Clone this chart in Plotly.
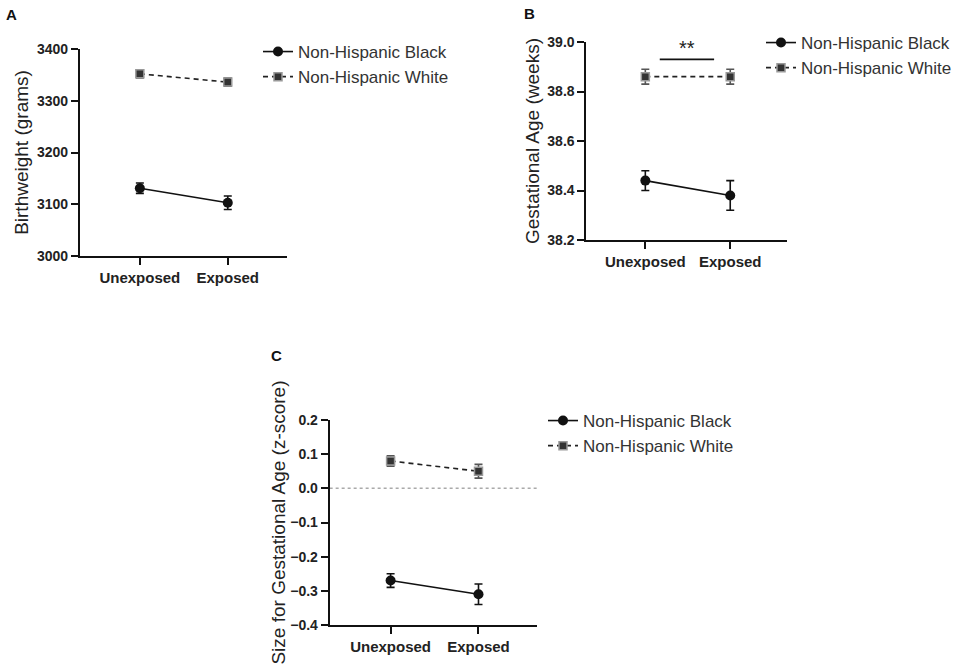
import plotly.graph_objects as go

# categories and values
categories = ['Unexposed', 'Exposed']
groups = ['Non-Hispanic Black', 'Non-Hispanic White']

bw_black = [3131, 3103]
bw_black_err = [10, 13]
bw_white = [3352, 3336]
bw_white_err = [8, 8]

ga_black = [38.44, 38.38]
ga_black_err = [0.04, 0.06]
ga_white = [38.86, 38.86]
ga_white_err = [0.03, 0.03]

sga_black = [-0.27, -0.31]
sga_black_err = [0.02, 0.03]
sga_white = [0.08, 0.05]
sga_white_err = [0.015, 0.02]

W, H = 957, 667
FONT = 'Liberation Sans, Arial, sans-serif'

fig = go.Figure()

xpos = list(range(len(categories)))

panels = [
    ('x', 'y', 'legend', bw_black, bw_black_err, bw_white, bw_white_err),
    ('x2', 'y2', 'legend2', ga_black, ga_black_err, ga_white, ga_white_err),
    ('x3', 'y3', 'legend3', sga_black, sga_black_err, sga_white, sga_white_err),
]

for xa, ya, lg, b, be, w, we in panels:
    fig.add_trace(go.Scatter(
        x=xpos, y=b, xaxis=xa, yaxis=ya, legend=lg, name=groups[0],
        mode='lines+markers',
        line=dict(color='#111111', width=1.6),
        marker=dict(symbol='circle', size=10, color='#111111'),
        error_y=dict(type='data', array=be, color='#111111', thickness=1.6, width=4),
    ))
    fig.add_trace(go.Scatter(
        x=xpos, y=w, xaxis=xa, yaxis=ya, legend=lg, name=groups[1],
        mode='lines+markers',
        line=dict(color='#222222', width=1.6, dash='5px,4px'),
        marker=dict(symbol='square', size=8, color='#333333',
                    line=dict(color='#999999', width=1.5)),
        error_y=dict(type='data', array=we, color='#555555', thickness=1.6, width=4),
    ))

def xdom(left, right):
    return [left / W, right / W]

def ydom(top, bottom):
    return [1 - bottom / H, 1 - top / H]

def xrange_for(left, right, p0, p1):
    unit = p1 - p0
    return [(left - p0) / unit, (right - p0) / unit]

axis_common = dict(
    showline=True, linecolor='#111111', linewidth=2,
    ticks='outside', tickcolor='#111111', tickwidth=2, ticklen=7,
    showgrid=False, zeroline=False, automargin=False,
    tickfont=dict(family=FONT, size=14, color='#222222', weight='bold'),
)

xcommon = dict(axis_common, tickvals=xpos, ticktext=categories, fixedrange=True,
               tickfont=dict(family=FONT, size=15, color='#222222', weight='bold'))
title_font = dict(family=FONT, size=19, color='#222222')

fig.update_layout(
    width=W, height=H,
    margin=dict(l=0, r=0, t=0, b=0),
    paper_bgcolor='white', plot_bgcolor='white',
    font=dict(family=FONT, color='#222222'),
    xaxis=dict(xcommon, domain=xdom(80, 287), range=xrange_for(80, 287, 140, 228), anchor='y'),
    yaxis=dict(axis_common, domain=ydom(49, 256), range=[3000, 3400], dtick=100, anchor='x',
               title=dict(text='Birthweight (grams)', font=title_font, standoff=3)),
    xaxis2=dict(xcommon, domain=xdom(587, 788), range=xrange_for(587, 788, 646, 731), anchor='y2'),
    yaxis2=dict(axis_common, domain=ydom(42, 240), range=[38.2, 39.0], dtick=0.2,
                tickformat='.1f', anchor='x2',
                title=dict(text='Gestational Age (weeks)', font=title_font, standoff=3)),
    xaxis3=dict(xcommon, domain=xdom(330, 538), range=xrange_for(330, 538, 391, 479), anchor='y3'),
    yaxis3=dict(axis_common, domain=ydom(420, 625), range=[-0.4, 0.2], dtick=0.1,
                tickformat='.1f', anchor='x3',
                title=dict(text='Size for Gestational Age (z-score)', font=title_font, standoff=0)),
    legend=dict(x=258 / W, y=1 - 34 / H, xanchor='left', yanchor='top',
                font=dict(size=17, color='#333333'), bgcolor='rgba(0,0,0,0)'),
    legend2=dict(x=762 / W, y=1 - 25 / H, xanchor='left', yanchor='top',
                 font=dict(size=17, color='#333333'), bgcolor='rgba(0,0,0,0)'),
    legend3=dict(x=543 / W, y=1 - 403 / H, xanchor='left', yanchor='top',
                 font=dict(size=17, color='#333333'), bgcolor='rgba(0,0,0,0)'),
    showlegend=True,
)

# panel letters
for letter, px_, py_ in [('A', 12, 15), ('B', 530, 14), ('C', 277, 355)]:
    fig.add_annotation(text='<b>%s</b>' % letter, x=px_ / W, y=1 - py_ / H,
                       xref='paper', yref='paper', showarrow=False,
                       xanchor='center', yanchor='middle',
                       font=dict(family=FONT, size=15, color='#111111'))

# significance bar in panel B
fig.add_shape(type='line', xref='x2', yref='y2', x0=0.17, x1=0.81, y0=38.93, y1=38.93,
              line=dict(color='#111111', width=1.6))
fig.add_annotation(text='**', x=0.49, y=38.93, xref='x2', yref='y2', showarrow=False,
                   yanchor='bottom', yshift=-2, font=dict(family=FONT, size=20, color='#222222'))

# dotted reference line at zero in panel C
fig.add_shape(type='line', xref='x3 domain', yref='y3', x0=0, x1=1, y0=0, y1=0,
              line=dict(color='#aaaaaa', width=1.5, dash='dot'), layer='below')

# drop the default page margin so the figure fills the window
fig.write_html('out.html', config={'displayModeBar': False},
               post_script="document.body.style.margin='0';")
